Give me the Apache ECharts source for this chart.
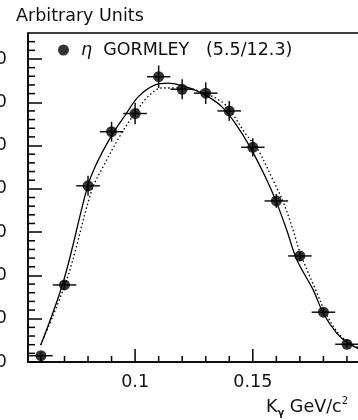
<!DOCTYPE html>
<html>
<head>
<meta charset="utf-8">
<script src="https://cdn.jsdelivr.net/npm/echarts@6/dist/echarts.min.js"></script>
<style>
html,body{margin:0;padding:0;background:#fff;}
#chart{width:358px;height:420px;}
</style>
</head>
<body>
<div id="chart"></div>
<script>
// ---- data ----
const xCenters = [0.06, 0.07, 0.08, 0.09, 0.10, 0.11, 0.12, 0.13, 0.14, 0.15, 0.16, 0.17, 0.18, 0.19];
const yValues  = [1.45, 17.8, 40.7, 53.2, 57.4, 65.9, 63.0, 62.1, 58.0, 49.6, 37.2, 24.5, 11.5, 4.1];
const yErrors  = [0.8, 1.0, 2.3, 2.3, 2.5, 2.6, 2.3, 2.5, 2.3, 2.1, 1.6, 1.1, 0.9, 0.8];
const binHalfWidth = 0.005;

const solidX = [0.0599, 0.0696, 0.0795, 0.0830, 0.0901, 0.0958, 0.1014, 0.1085, 0.1140, 0.1212, 0.1255, 0.1310, 0.1368, 0.1425, 0.1488, 0.1560, 0.1602, 0.1644, 0.1687, 0.1757, 0.1800, 0.1857, 0.1906, 0.1960];
const solidY = [3.9, 18.7, 40.0, 45.1, 52.4, 57.0, 61.3, 64.0, 64.4, 63.6, 62.8, 61.3, 59.0, 55.2, 49.7, 42.0, 36.7, 30.5, 23.6, 16.6, 11.2, 6.6, 4.3, 2.8];

const dottedX = [0.0599, 0.0712, 0.0816, 0.0864, 0.0943, 0.1000, 0.1055, 0.1113, 0.1170, 0.1234, 0.1283, 0.1368, 0.1411, 0.1467, 0.1522, 0.1586, 0.1629, 0.1671, 0.1701, 0.1769, 0.1811, 0.1862, 0.1913, 0.1960];
const dottedY = [3.9, 19.4, 39.7, 45.1, 52.9, 57.5, 61.3, 63.3, 63.3, 63.0, 62.4, 60.1, 57.5, 52.9, 49.0, 42.0, 37.0, 30.5, 25.2, 16.4, 11.2, 6.7, 4.4, 3.0];

const yMajorStep = 10;
const yMinorTicks = [2, 4, 6, 8, 12, 14, 16, 18, 22, 24, 26, 28, 32, 34, 36, 38, 42, 44, 46, 48, 52, 54, 56, 58, 62, 64, 66, 68, 72, 74];
const xMajorTicks = [0.10, 0.15];
const xMinorTicks = [0.06, 0.07, 0.08, 0.09, 0.11, 0.12, 0.13, 0.14, 0.16, 0.17, 0.18, 0.19];
const xTickLabels = ['0.1', '0.15'];

const seriesName = 'GORMLEY';
const legendText = '{i|η}  GORMLEY   (5.5/12.3)';
const titleText = 'Arbitrary Units';
const xNameText = '{k|K}{g|γ}{k| GeV/c}{s|2}';

// ---- chart ----
const FONT = 'DejaVu Sans';
const chart = echarts.init(document.getElementById('chart'), null, {renderer: 'canvas'});

const xMin = 0.0545, xMax = 0.2;
const yMin = 0, yMax = 76;

const errData = xCenters.map((x, i) => [x, yValues[i], yErrors[i]]);
const ptData = xCenters.map((x, i) => [x, yValues[i]]);
const solidData = solidX.map((x, i) => [x, solidY[i]]);
const dottedData = dottedX.map((x, i) => [x, dottedY[i]]);
const xTickData = xMajorTicks.map(v => [v, yMin, 13]).concat(xMinorTicks.map(v => [v, yMin, 6]));
const yTickData = yMinorTicks.map(v => [xMin, v]);

const option = {
  animation: false,
  title: [
    {
      text: titleText, left: 16, top: 7, padding: 0,
      textStyle: {fontFamily: FONT, fontSize: 17.5, fontWeight: 'normal', color: '#111'}
    },
    {
      text: xNameText, left: 266, top: 396, padding: 0,
      textStyle: {
        fontFamily: FONT, fontSize: 17.5, fontWeight: 'normal', color: '#111',
        rich: {
          k: {fontFamily: FONT, fontSize: 17.5, color: '#111', lineHeight: 22},
          g: {fontFamily: FONT, fontSize: 10, fontWeight: 'bold', color: '#111', verticalAlign: 'bottom', lineHeight: 22, padding: [8, 0, 0, 0]},
          s: {fontFamily: FONT, fontSize: 10, color: '#111', verticalAlign: 'top', lineHeight: 22, padding: [0, 0, 8, 0]}
        }
      }
    }
  ],
  legend: {
    left: 58, top: 41, padding: 0,
    itemWidth: 11, itemHeight: 11,
    data: [{name: seriesName, icon: 'circle'}],
    formatter: () => legendText,
    textStyle: {
      fontFamily: FONT, fontSize: 17.5, color: '#111',
      rich: {i: {fontFamily: FONT, fontSize: 17.5, fontStyle: 'italic', color: '#111', padding: [0, 0, 0, 7]}}
    }
  },
  grid: {
    left: 28, top: 33, right: -12.5, bottom: 58,
    outerBoundsMode: 'none',
    show: true, borderColor: '#000', borderWidth: 1.5
  },
  xAxis: {
    type: 'value', min: xMin, max: xMax,
    splitLine: {show: false},
    axisLine: {show: true, lineStyle: {color: '#000', width: 1.5}},
    axisTick: {show: false},
    axisLabel: {show: true, customValues: xMajorTicks, margin: 11,
      formatter: v => xTickLabels[xMajorTicks.findIndex(t => Math.abs(t - v) < 1e-9)],
      fontFamily: FONT, fontSize: 17.5, color: '#111'}
  },
  yAxis: {
    type: 'value', min: yMin, max: yMax, interval: yMajorStep,
    splitLine: {show: false},
    axisLine: {show: true, lineStyle: {color: '#000', width: 1.5}},
    axisTick: {show: true, inside: true, length: 14, lineStyle: {color: '#000', width: 1.5}},
    axisLabel: {show: true, margin: 21, showMaxLabel: false,
      fontFamily: FONT, fontSize: 17.5, color: '#111'}
  },
  series: [
    {
      type: 'line', name: 'solid',
      data: solidData, smooth: 0.35, showSymbol: false, symbol: 'none',
      lineStyle: {color: '#000', width: 1.3}, z: 2, silent: true
    },
    {
      type: 'line', name: 'dotted',
      data: dottedData, smooth: 0.35, showSymbol: false, symbol: 'none',
      lineStyle: {color: '#000', width: 1.3, type: [1.5, 2.5]}, z: 2, silent: true
    },
    {
      type: 'custom', name: 'errors',
      data: errData, z: 3, silent: true,
      renderItem: function (params, api) {
        const x = api.value(0), y = api.value(1), e = api.value(2);
        const l = api.coord([x - binHalfWidth, y]);
        const r = api.coord([x + binHalfWidth, y]);
        const t = api.coord([x, y + e]);
        const b = api.coord([x, y - e]);
        const st = {stroke: '#111', lineWidth: 1.5};
        return {type: 'group', children: [
          {type: 'line', shape: {x1: l[0], y1: l[1], x2: r[0], y2: r[1]}, style: st},
          {type: 'line', shape: {x1: t[0], y1: t[1], x2: b[0], y2: b[1]}, style: st}
        ]};
      }
    },
    {
      type: 'scatter', name: seriesName,
      data: ptData, symbol: 'circle', symbolSize: 11,
      itemStyle: {color: '#000'}, z: 4, silent: true
    },
    {
      // x-axis tick marks placed through the x scale
      type: 'custom', name: 'xticks', data: xTickData, clip: false, z: 6, silent: true,
      encode: {x: 0, y: 1},
      renderItem: function (params, api) {
        const p = api.coord([api.value(0), api.value(1)]);
        const len = api.value(2);
        return {type: 'group', children: [
          {type: 'rect', shape: {x: p[0] - 0.75, y: p[1] - len, width: 1.5, height: len},
           style: {fill: '#000'}}
        ]};
      }
    },
    {
      // y-axis minor tick marks placed through the y scale
      type: 'custom', name: 'yticks', data: yTickData, clip: false, silent: true,
      renderItem: function (params, api) {
        const p = api.coord([api.value(0), api.value(1)]);
        return {type: 'line', shape: {x1: p[0], y1: p[1], x2: p[0] + 7, y2: p[1]},
          style: {stroke: '#000', lineWidth: 1.5}};
      }
    }
  ]
};
chart.setOption(option);
</script>
</body>
</html>
